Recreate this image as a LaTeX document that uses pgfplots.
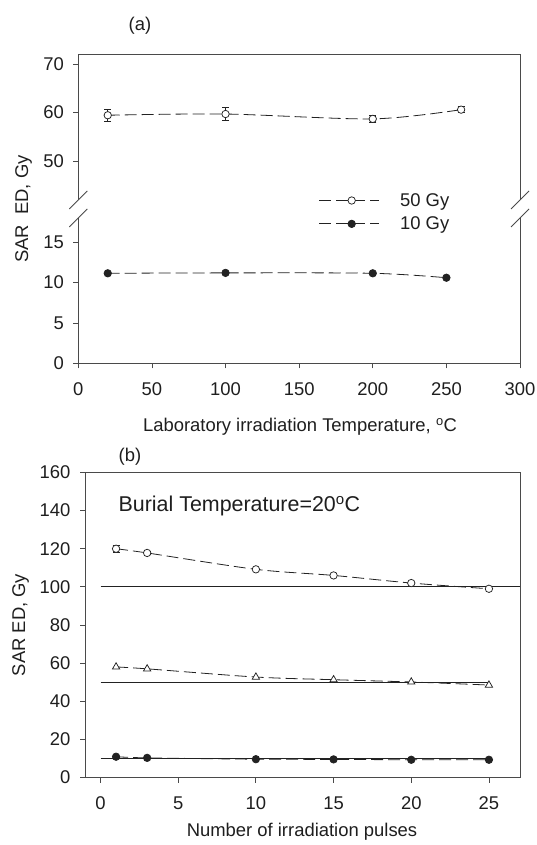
\documentclass[border=0pt]{standalone}
\usepackage{fontspec}
\setmainfont{Liberation Sans}
\usepackage{pgfplots}
\pgfplotsset{compat=1.18}
\definecolor{axgray}{HTML}{4A4A4A}
\definecolor{txt}{HTML}{1E1E1E}
\definecolor{ln}{HTML}{222222}
\begin{document}
\begin{tikzpicture}
\path[use as bounding box] (0,0) rectangle (537bp,845bp);
\pgfplotsset{
 myaxis/.style={scale only axis, clip=false,
  tick align=outside, major tick length=5bp,
  tick style={axgray, line width=0.8bp},
  axis line style={axgray, line width=0.8bp},
  tick label style={font=\fontsize{18.5}{18.5}\selectfont, text=txt},
  xticklabel style={yshift=-11bp},
  yticklabel style={xshift=-6bp},
  /pgf/number format/assume math mode=true,
  minor tick num=0,
 },
 dsh/.style={dash pattern=on 12bp off 5bp, line width=0.8bp, ln},
 openc/.style={mark=*, mark size=3.7bp, mark options={solid, fill=white, draw=ln, line width=0.75bp}},
 fillc/.style={mark=*, mark size=3.7bp, mark options={solid, fill=ln, draw=ln}},
 ebar/.style={error bars/.cd, y dir=both, y explicit,
   error mark options={rotate=90, mark size=3.5bp, ln, solid, line width=0.75bp},
   error bar style={solid, ln, line width=0.75bp}},
}
% ---------- panel (a), upper part ----------
\begin{axis}[myaxis, at={(78.3bp,645bp)}, anchor=south west,
  width=441.7bp, height=145.7bp,
  xmin=0, xmax=300, ymin=42, ymax=72,
  axis x line*=top, axis y line*=left,
  xtick=\empty, ytick={50,60,70}]
\addplot[dsh, smooth, tension=0.5, openc, ebar] coordinates {
 (20,59.45) +- (0,1.28)
 (100,59.7) +- (0,1.35)
 (200,58.7) +- (0,0.7)
 (260,60.6) +- (0,0.65)
};
\draw[axgray, line width=0.8bp] (rel axis cs:1,0) -- (rel axis cs:1,1);
\draw[axgray, line width=0.8bp] (rel axis cs:0,0) ++(-9bp,-9bp) -- ++(18bp,18bp);
\draw[axgray, line width=0.8bp] (rel axis cs:1,0) ++(-9bp,-9bp) -- ++(18bp,18bp);
\end{axis}
% ---------- panel (a), lower part ----------
\begin{axis}[myaxis, at={(78.3bp,481.7bp)}, anchor=south west,
  width=441.7bp, height=145.3bp,
  xmin=0, xmax=300, ymin=0, ymax=18,
  axis x line*=bottom, axis y line*=left,
  xtick={0,50,...,300}, ytick={0,5,10,15},
  legend image code/.code={
    \draw[mark repeat=2, mark phase=2] plot coordinates {(0bp,0bp) (32.5bp,0bp) (59.5bp,0bp)};},
  legend style={at={(rel axis cs:0.544,1.04)}, anchor=west, draw=none, fill=none,
    inner sep=0pt, font=\fontsize{18.5}{18.5}\selectfont, text=txt,
    column sep=19bp, row sep=5bp, nodes={inner sep=2bp}},
  legend cell align=left]
\addlegendimage{dsh, openc}
\addlegendentry{50 Gy}
\addplot[dsh, smooth, tension=0.5, fillc] coordinates {
 (20,11.15) (100,11.2) (200,11.15) (250,10.6)
};
\addlegendentry{10 Gy}
\draw[axgray, line width=0.8bp] (rel axis cs:1,0) -- (rel axis cs:1,1);
\draw[axgray, line width=0.8bp] (rel axis cs:0,1) ++(-9bp,-9bp) -- ++(18bp,18bp);
\draw[axgray, line width=0.8bp] (rel axis cs:1,1) ++(-9bp,-9bp) -- ++(18bp,18bp);
\end{axis}
% ---------- panel (b) ----------
\begin{axis}[myaxis, at={(85bp,67.5bp)}, anchor=south west,
  width=435bp, height=305bp,
  xmin=-1, xmax=27, ymin=0, ymax=160,
  xtick={0,5,...,25}, ytick={0,20,...,160},
  tick pos=left]
\addplot[ln, line width=0.8bp, no marks] coordinates {(0,100) (27,100)};
\addplot[ln, line width=0.8bp, no marks] coordinates {(0,50) (25,50)};
\addplot[ln, line width=0.8bp, no marks] coordinates {(0,10) (25,10)};
\addplot[dsh, smooth, tension=0.5, openc, ebar] coordinates {
 (1,120) +- (0,1.9) (3,117.8) +- (0,1.0) (10,109.2) +- (0,0) (15,106.0) +- (0,0) (20,102.0) +- (0,0) (25,99.0) +- (0,0)
};
\addplot[dsh, smooth, tension=0.5, mark=triangle*, mark size=4.2bp, mark options={solid, fill=white, draw=ln, line width=0.75bp}] coordinates {
 (1,58) (3,57) (10,52.7) (15,51.3) (20,50.1) (25,48.5)
};
\addplot[dsh, smooth, tension=0.5, fillc] coordinates {
 (1,10.9) (3,10.3) (10,9.6) (15,9.5) (20,9.3) (25,9.3)
};
\node[anchor=base west, font=\fontsize{21.5}{21.5}\selectfont, text=txt, inner sep=0pt]
  at (axis cs:1.15,139.5) {Burial Temperature=20\textsuperscript{o}C};
\end{axis}
% ---------- texts ----------
\node[anchor=base, font=\fontsize{18.5}{18.5}\selectfont, text=txt, inner sep=0pt] at (140bp,814.3bp) {(a)};
\node[anchor=base, rotate=90, font=\fontsize{18.5}{18.5}\selectfont, text=txt, inner sep=0pt] at (28bp,636bp) {SAR~~ED, Gy};
\node[anchor=base, font=\fontsize{18.5}{18.5}\selectfont, text=txt, inner sep=0pt] at (300bp,413.3bp) {Laboratory irradiation Temperature, \textsuperscript{o}C};
\node[anchor=base, font=\fontsize{18.5}{18.5}\selectfont, text=txt, inner sep=0pt] at (130bp,383.3bp) {(b)};
\node[anchor=base, rotate=90, font=\fontsize{18.5}{18.5}\selectfont, text=txt, inner sep=0pt] at (25bp,220bp) {SAR ED, Gy};
\node[anchor=base, font=\fontsize{18.5}{18.5}\selectfont, text=txt, inner sep=0pt] at (302bp,9bp) {Number of irradiation pulses};
\end{tikzpicture}
\end{document}
